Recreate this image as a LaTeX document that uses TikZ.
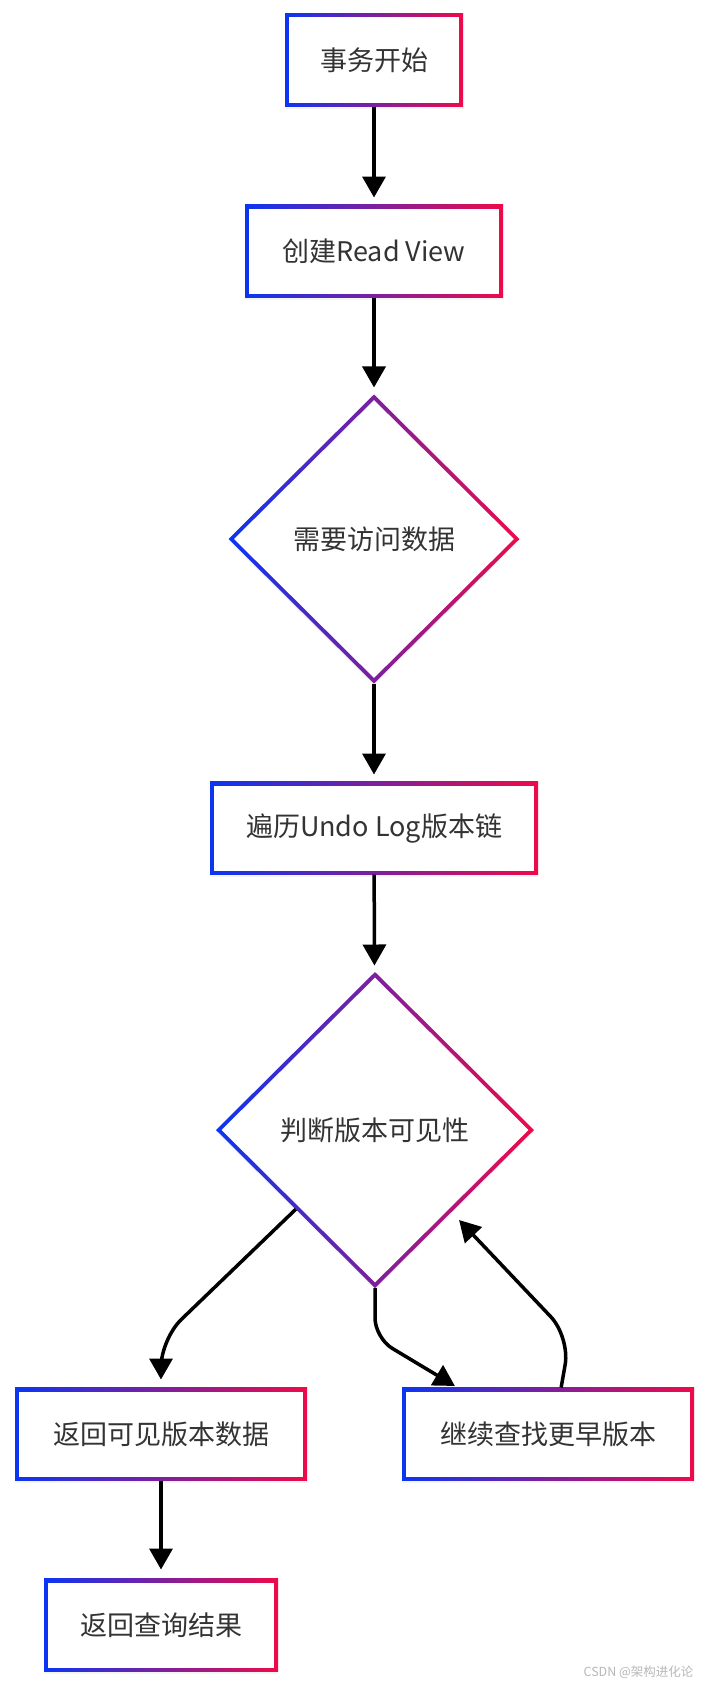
\documentclass[tikz,border=0pt]{standalone}
\usepackage{fontspec}
\setmainfont{Noto Sans CJK SC}
\usetikzlibrary{arrows.meta,shapes.geometric,shadows,calc}
\definecolor{gblue}{HTML}{0B35F2}
\definecolor{gred}{HTML}{EE0A4A}
\definecolor{txt}{HTML}{333333}
\tikzset{
  gradrect/.style={rectangle, minimum width=#1, minimum height=93pt, inner sep=0pt, outer sep=0pt,
    text=txt, font=\fontsize{27}{31}\selectfont,
    drop shadow={opacity=0.08, shadow xshift=0pt, shadow yshift=-2pt},
    path picture={
      \shade[left color=gblue, right color=gred] (path picture bounding box.south west) rectangle (path picture bounding box.north east);
      \fill[white] ([shift={(4pt,4pt)}]path picture bounding box.south west) rectangle ([shift={(-4pt,-4pt)}]path picture bounding box.north east);
    }},
  graddiamond/.style 2 args={diamond, minimum width=#1, minimum height=#2, inner sep=0pt, outer sep=0pt,
    text=txt, font=\fontsize{27}{31}\selectfont,
    drop shadow={opacity=0.08, shadow xshift=0pt, shadow yshift=-2pt},
    path picture={
      \shade[left color=gblue, right color=gred] (path picture bounding box.south west) rectangle (path picture bounding box.north east);
      \fill[white] ([yshift=-5.6pt]path picture bounding box.north) -- ([xshift=-5.6pt]path picture bounding box.east)
        -- ([yshift=5.6pt]path picture bounding box.south) -- ([xshift=5.6pt]path picture bounding box.west) -- cycle;
    }},
  flow/.style={draw=black, line width=3.5pt, -{Triangle[width=23pt,length=21pt]}, shorten >=7pt},
}
\begin{document}
\begin{tikzpicture}[x=1pt,y=-1pt]
  \useasboundingbox[fill=white] (0,0) rectangle (708,1686);

  % Steps down the middle
  \node[gradrect=178pt] (start) at (374,60) {事务开始};
  \node[gradrect=258pt] (view) at (374,251) {创建Read View};
  \node[graddiamond={291pt}{289pt}] (need) at (374,539) {需要访问数据};
  \node[gradrect=328pt] (walk) at (374,828) {遍历Undo Log版本链};
  \node[graddiamond={318pt}{316pt}] (judge) at (375,1130) {判断版本可见性};
  % The two outcomes
  \node[gradrect=292pt] (visible) at (161,1434) {返回可见版本数据};
  \node[gradrect=292pt] (older) at (548,1434) {继续查找更早版本};
  \node[gradrect=234pt] (result) at (161,1625) {返回查询结果};

  % Bends of the curved arrows
  \coordinate (bendL) at (161,1339);
  \coordinate (bendM) at (375,1338);
  \coordinate (bendR) at (570,1337);
  \coordinate (olderIn) at ($(older.north west)!0.19!(older.north east)$);
  \coordinate (olderOut) at ($(older.north west)!0.545!(older.north east)$);

  \draw[flow] (start) -- (view);
  \draw[flow] (view) -- (need);
  \draw[flow] (need) -- (walk);
  \draw[flow] (walk) -- (judge);
  \draw[flow, rounded corners=28pt, shorten >=8pt] (judge.225) -- (bendL) -- (visible.north);
  \draw[flow, rounded corners=20pt, shorten >=3pt] (judge.south) -- (bendM) -- (olderIn);
  \draw[flow, rounded corners=28pt, shorten >=11pt] (olderOut) -- (bendR) -- (judge.313);
  \draw[flow, shorten >=9pt] (visible) -- (result);

  \node[anchor=east, text=black!28, font=\fontsize{12.5}{14}\selectfont] (mark) at (697,1672) {CSDN @架构进化论};
\end{tikzpicture}
\end{document}
